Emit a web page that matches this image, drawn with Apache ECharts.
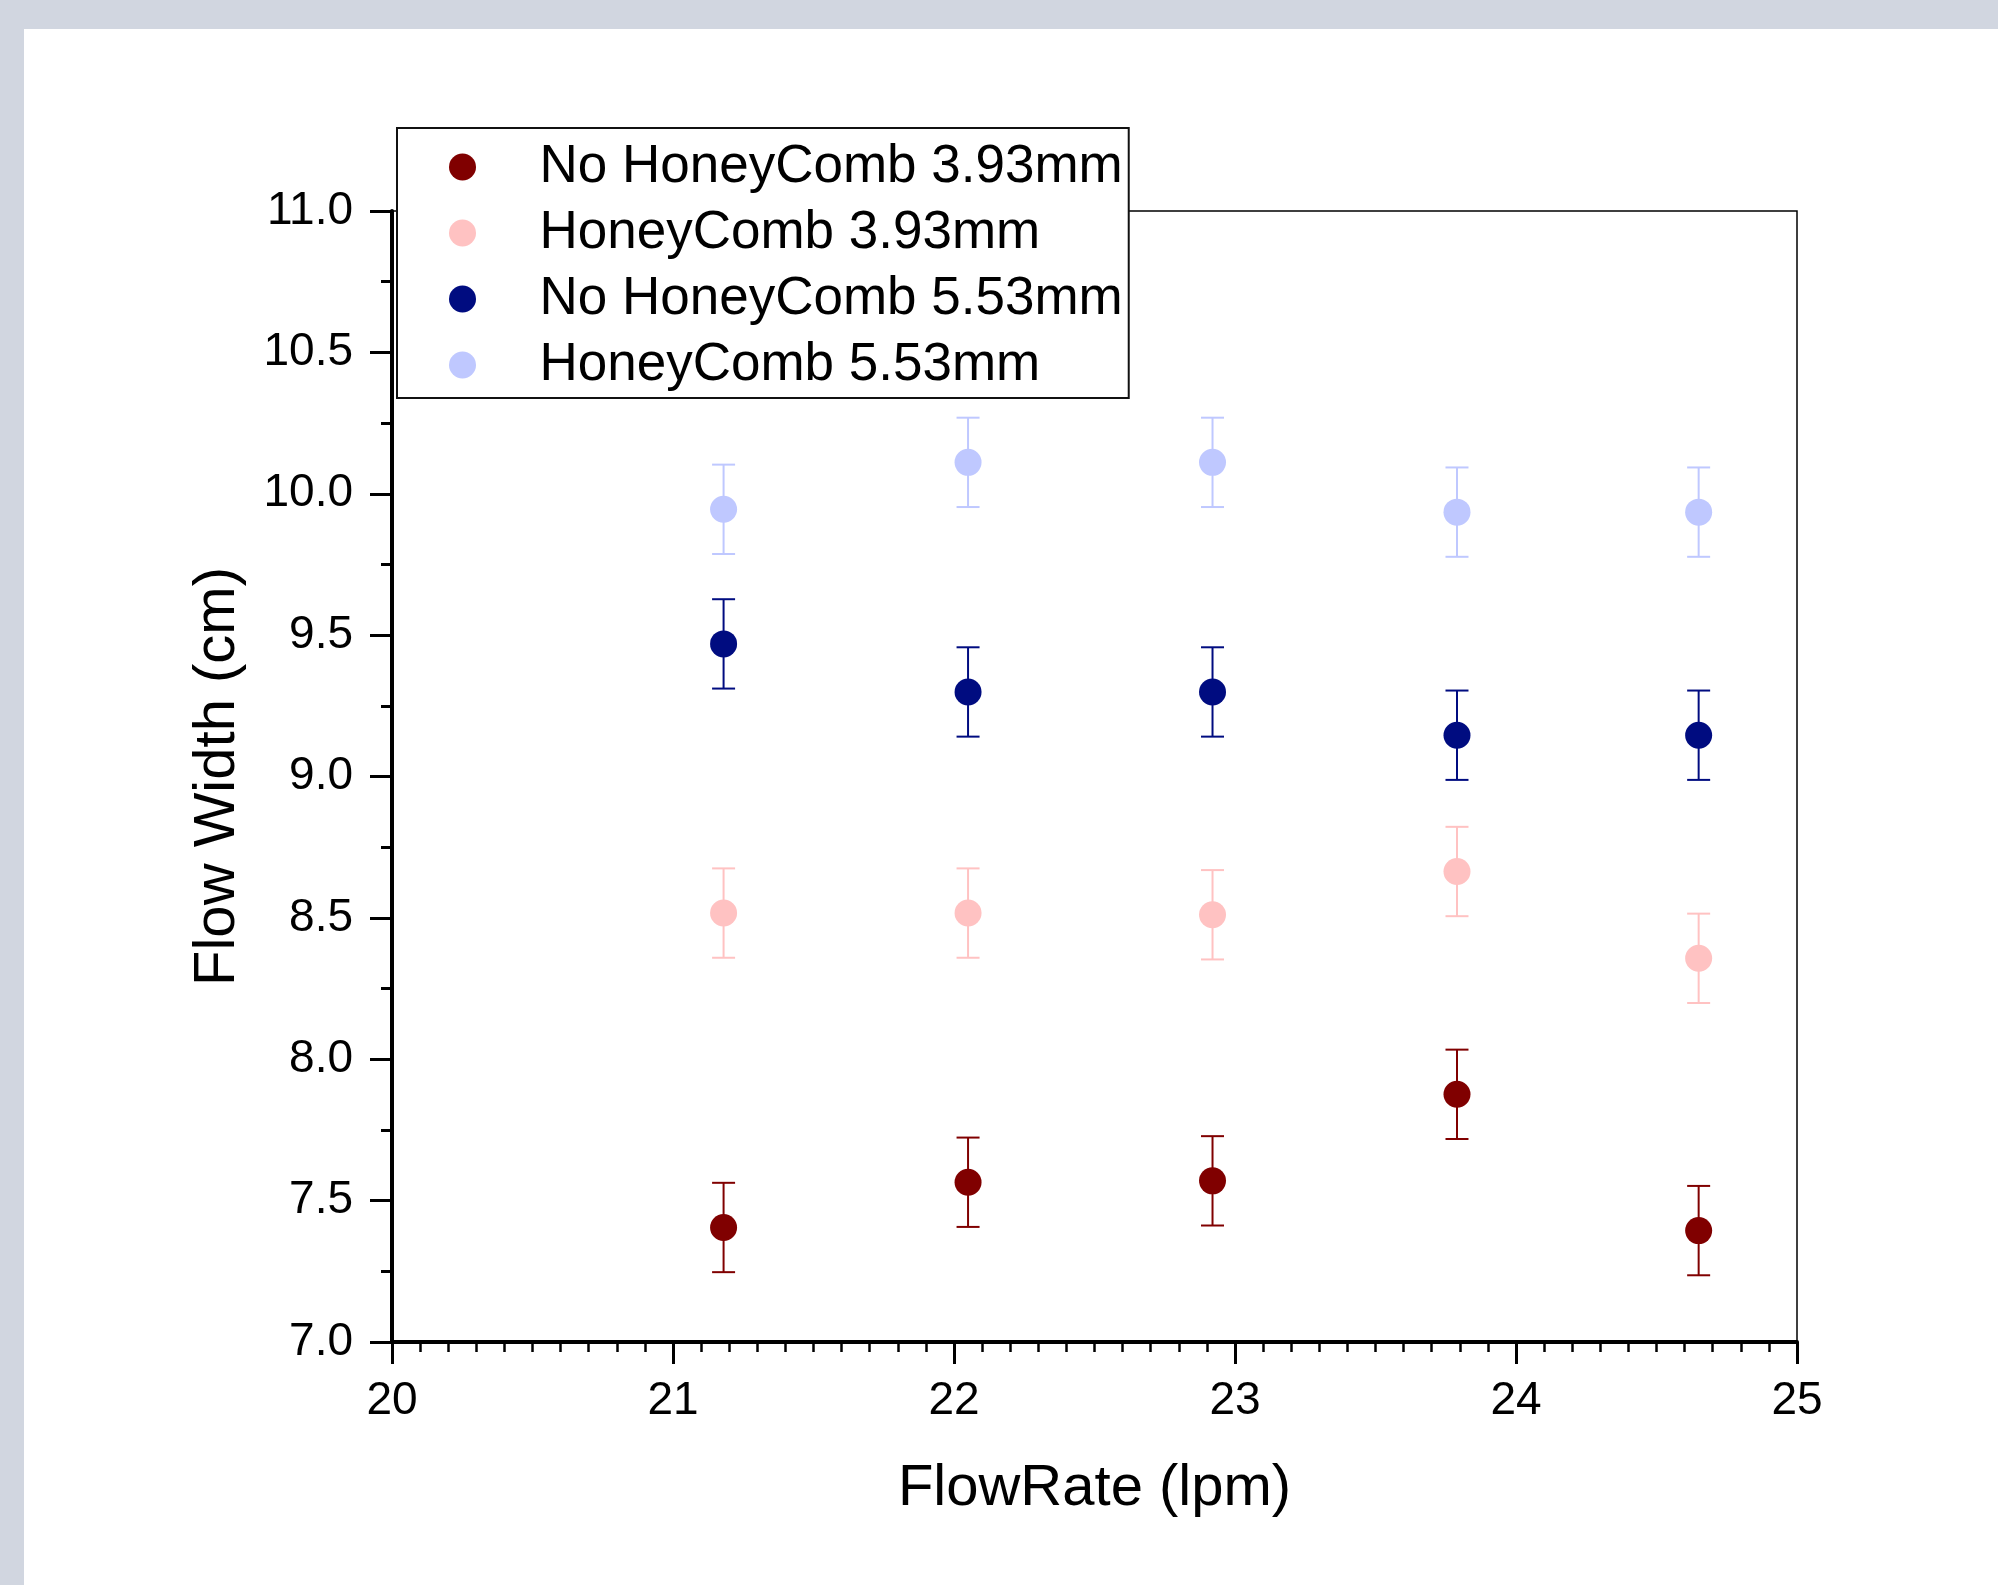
<!DOCTYPE html>
<html>
<head>
<meta charset="utf-8">
<script src="https://cdn.jsdelivr.net/npm/echarts@6/dist/echarts.min.js"></script>
<style>
  html, body { margin: 0; padding: 0; width: 1998px; height: 1585px; background: #d1d6e0; overflow: hidden; }
  #panel { position: absolute; left: 24px; top: 29px; right: 0; bottom: 0; background: #ffffff; }
  #chart { position: absolute; left: 0; top: 0; width: 1998px; height: 1585px; }
</style>
</head>
<body>
<div id="panel"></div>
<div id="chart"></div>
<script>
// ---- data ----
var flowRate = [21.18, 22.05, 22.92, 23.79, 24.65];
var seriesNames = ['No HoneyComb 3.93mm', 'HoneyComb 3.93mm', 'No HoneyComb 5.53mm', 'HoneyComb 5.53mm'];
var noHc393 = [7.405, 7.565, 7.570, 7.876, 7.394];
var noHc393Err = [0.158, 0.158, 0.158, 0.158, 0.158];
var hc393 = [8.517, 8.517, 8.511, 8.664, 8.357];
var hc393Err = [0.158, 0.158, 0.158, 0.158, 0.158];
var noHc553 = [9.469, 9.299, 9.299, 9.146, 9.146];
var noHc553Err = [0.158, 0.158, 0.158, 0.158, 0.158];
var hc553 = [9.945, 10.111, 10.111, 9.935, 9.935];
var hc553Err = [0.158, 0.158, 0.158, 0.158, 0.158];
var colors = ['#800000', '#FFC2C2', '#000C80', '#BFC8FF'];

var FONT = '"Liberation Sans", Arial, sans-serif';

function pts(vals) { return flowRate.map(function (x, i) { return [x, vals[i]]; }); }
function errs(vals, e) { return flowRate.map(function (x, i) { return [x, vals[i] - e[i], vals[i] + e[i]]; }); }

function errorSeries(name, vals, e, color) {
  return {
    type: 'custom',
    name: name + ' err',
    z: 2,
    silent: true,
    data: errs(vals, e),
    renderItem: function (params, api) {
      var x = api.value(0);
      var lo = api.coord([x, api.value(1)]);
      var hi = api.coord([x, api.value(2)]);
      var hw = 11.5;
      var style = { stroke: color, lineWidth: 2, fill: null };
      return {
        type: 'group',
        children: [
          { type: 'line', shape: { x1: lo[0], y1: lo[1], x2: hi[0], y2: hi[1] }, style: style },
          { type: 'line', shape: { x1: lo[0] - hw, y1: lo[1], x2: lo[0] + hw, y2: lo[1] }, style: style },
          { type: 'line', shape: { x1: hi[0] - hw, y1: hi[1], x2: hi[0] + hw, y2: hi[1] }, style: style }
        ]
      };
    }
  };
}

function scatterSeries(name, vals, color) {
  return {
    type: 'scatter',
    name: name,
    z: 3,
    symbol: 'circle',
    symbolSize: 27,
    itemStyle: { color: color, opacity: 1 },
    data: pts(vals)
  };
}

var allVals = [noHc393, hc393, noHc553, hc553];
var allErrs = [noHc393Err, hc393Err, noHc553Err, hc553Err];
var series = [];
for (var k = 0; k < 4; k++) series.push(errorSeries(seriesNames[k], allVals[k], allErrs[k], colors[k]));
for (var k2 = 0; k2 < 4; k2++) series.push(scatterSeries(seriesNames[k2], allVals[k2], colors[k2]));

var chart = echarts.init(document.getElementById('chart'), null, { renderer: 'canvas' });
chart.setOption({
  backgroundColor: 'transparent',
  animation: false,
  textStyle: { fontFamily: FONT },
  grid: {
    left: 392, top: 211, right: 201, bottom: 243,
    show: true, borderColor: '#000', borderWidth: 1.5, backgroundColor: 'transparent'
  },
  legend: {
    show: true,
    data: seriesNames,
    orient: 'vertical',
    left: 397, top: 128,
    z: 10,
    backgroundColor: '#ffffff',
    borderColor: '#111',
    borderWidth: 2,
    padding: [12.5, 6, 6.5, 52],
    itemGap: 13,
    itemWidth: 132,
    itemHeight: 27,
    icon: 'circle',
    selectedMode: false,
    textStyle: { fontSize: 53, lineHeight: 53, color: '#000', fontFamily: FONT, padding: [0, 0, 0, 6] }
  },
  xAxis: {
    type: 'value',
    min: 20, max: 25, interval: 1,
    name: 'FlowRate (lpm)',
    nameLocation: 'middle',
    nameGap: 118,
    nameTextStyle: { fontSize: 58, color: '#000', fontFamily: FONT },
    axisLine: { show: true, onZero: false, lineStyle: { color: '#000', width: 4 } },
    axisTick: { show: true, inside: false, length: 22, lineStyle: { color: '#000', width: 3 } },
    minorTick: { show: true, splitNumber: 10, length: 10, lineStyle: { color: '#000', width: 2.5 } },
    axisLabel: { show: true, margin: 36, fontSize: 46, color: '#000', fontFamily: FONT },
    splitLine: { show: false },
    minorSplitLine: { show: false }
  },
  yAxis: {
    type: 'value',
    min: 7, max: 11, interval: 0.5,
    name: 'Flow Width (cm)',
    nameLocation: 'middle',
    nameGap: 145,
    nameRotate: 90,
    nameTextStyle: { fontSize: 58, color: '#000', fontFamily: FONT },
    axisLine: { show: true, onZero: false, lineStyle: { color: '#000', width: 4 } },
    axisTick: { show: true, inside: false, length: 22, lineStyle: { color: '#000', width: 3 } },
    minorTick: { show: true, splitNumber: 2, length: 11, lineStyle: { color: '#000', width: 3 } },
    axisLabel: { show: true, margin: 39, fontSize: 46, color: '#000', fontFamily: FONT,
      formatter: function (v) { return v.toFixed(1); } },
    splitLine: { show: false },
    minorSplitLine: { show: false }
  },
  series: series
});
</script>
</body>
</html>
